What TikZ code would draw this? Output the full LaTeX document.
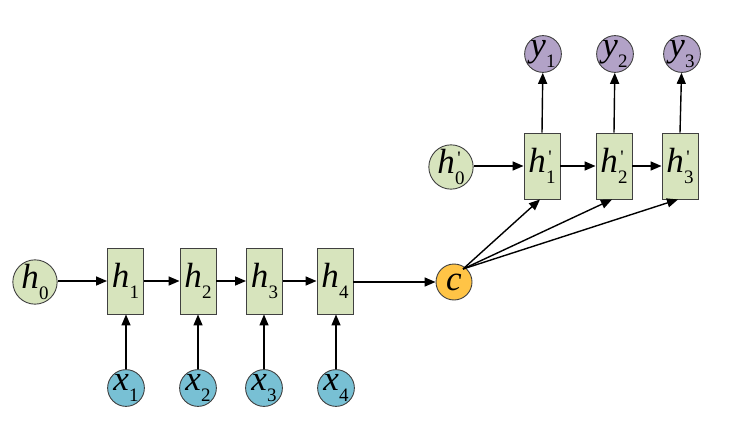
\documentclass[tikz,border=0pt]{standalone}
\usepackage{fontspec}
\setmainfont{Liberation Serif}
\usetikzlibrary{arrows.meta,calc}
\definecolor{boxgreen}{RGB}{215,228,189}
\definecolor{xblue}{RGB}{120,192,212}
\definecolor{ypurple}{RGB}{178,162,199}
\definecolor{cyellow}{RGB}{255,196,70}
\newcommand\rnnlab[2]{\textit{#1}\kern0.01em\raisebox{-0.3em}{\fontsize{19}{19}\selectfont #2}}
\newcommand\rnnlabp[2]{\textit{#1}\kern0.01em\raisebox{-0.3em}{\fontsize{19}{19}\selectfont\rlap{\raisebox{1.05em}{\kern0.12em\textquotesingle}}#2}}
\begin{document}
\begin{tikzpicture}[x=1pt,y=-1pt,
  every node/.style={font=\fontsize{35}{35}\selectfont},
  cell/.style={draw=black!75, fill=boxgreen, minimum width=36pt, minimum height=66pt, inner sep=0pt, line width=0.9pt},
  state/.style={circle, draw=black!75, minimum size=36pt, inner sep=0pt, line width=0.9pt},
  conn/.style={-{Triangle[length=11pt,width=9pt]}, line width=1.4pt}]
\useasboundingbox (0,0) rectangle (730,433);
% encoder
\node[state, fill=boxgreen] (h0) at (35,282) {\rnnlab{h}{0}};
\node[cell] (h1) at (125.5,281) {\rnnlab{h}{1}};
\node[cell] (h2) at (198,281) {\rnnlab{h}{2}};
\node[cell] (h3) at (264.5,281) {\rnnlab{h}{3}};
\node[cell] (h4) at (335,281) {\rnnlab{h}{4}};
\node[state, fill=xblue] (x1) at (126,388) {\rnnlab{x}{1}};
\node[state, fill=xblue] (x2) at (198,388) {\rnnlab{x}{2}};
\node[state, fill=xblue] (x3) at (264,388) {\rnnlab{x}{3}};
\node[state, fill=xblue] (x4) at (336,388) {\rnnlab{x}{4}};
\node[state, fill=cyellow] (c) at (454,282) {\textit{c}};
% decoder
\node[state, fill=boxgreen] (hp0) at (451,167) {\rnnlabp{h}{0}};
\node[cell] (hp1) at (542,166) {\rnnlabp{h}{1}};
\node[cell] (hp2) at (614,166) {\rnnlabp{h}{2}};
\node[cell] (hp3) at (680,166) {\rnnlabp{h}{3}};
\node[state, fill=ypurple] (y1) at (543,54) {\rnnlab{y}{1}};
\node[state, fill=ypurple] (y2) at (615,54) {\rnnlab{y}{2}};
\node[state, fill=ypurple] (y3) at (682,54) {\rnnlab{y}{3}};
% connectors
\draw[conn] (h0.east |- h1) -- (h1);
\draw[conn] (h1) -- (h2);
\draw[conn] (h2) -- (h3);
\draw[conn] (h3) -- (h4);
\draw[conn] (h4.east |- c) -- (c);
\foreach \i in {1,2,3,4} \draw[conn] (x\i) -- (h\i.south -| x\i);
\draw[conn] (hp0.east |- hp1) -- (hp1);
\draw[conn] (hp1) -- (hp2);
\draw[conn] (hp2) -- (hp3);
\foreach \i in {1,2,3} \draw[conn] (hp\i.north) -- (y\i);
\coordinate (cs) at ($(c.center)+(9,-13)$);
\draw[conn] (cs) -- ([xshift=-2pt]hp1.south);
\draw[conn] (cs) -- ([xshift=-2pt]hp2.south);
\draw[conn] (cs) -- ([xshift=-2pt]hp3.south);
\end{tikzpicture}
\end{document}
